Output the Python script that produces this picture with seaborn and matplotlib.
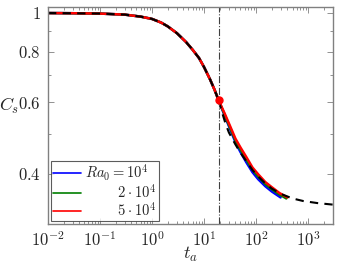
import numpy as np
import pandas as pd
import matplotlib
matplotlib.use("Agg")
import matplotlib.pyplot as plt
import seaborn as sns
from matplotlib.ticker import FixedLocator, FixedFormatter, NullFormatter, LogLocator

# ---- data ----
t_early = [0.01, 0.03, 0.1, 0.3, 0.6, 1, 1.5, 2, 3, 4.5, 6, 8, 10, 13, 16, 19]
cs_early = [0.998, 0.997, 0.995, 0.989, 0.978, 0.965, 0.945, 0.925, 0.890, 0.846,
            0.810, 0.772, 0.733, 0.684, 0.643, 0.607]

t_blue_late = [19, 25, 32, 40, 50, 65, 85, 110, 150, 200, 295]
cs_blue_late = [0.607, 0.555, 0.513, 0.478, 0.452, 0.426, 0.403, 0.387, 0.372, 0.361, 0.349]

t_green_late = [19, 25, 32, 40, 50, 65, 85, 110, 150, 200, 280, 380]
cs_green_late = [0.607, 0.558, 0.517, 0.483, 0.458, 0.433, 0.409, 0.393, 0.377, 0.366, 0.355, 0.347]

t_red_late = [19, 25, 32, 40, 50, 65, 85, 110, 150, 200, 280, 400]
cs_red_late = [0.607, 0.562, 0.522, 0.488, 0.464, 0.439, 0.414, 0.398, 0.381, 0.370, 0.358, 0.349]

t_ref_late = [19, 22, 26, 30, 40, 50, 65, 85, 110, 150, 200, 300, 500, 800, 1500, 3000]
cs_ref_late = [0.607, 0.568, 0.530, 0.505, 0.472, 0.450, 0.429, 0.408, 0.393, 0.378, 0.367,
               0.356, 0.347, 0.342, 0.338, 0.335]

labels = [r"$Ra_0 = 10^4$", r"$\qquad\;\;2\cdot10^4$", r"$\qquad\;\;5\cdot10^4$"]
colors = ["#0000ff", "#007f00", "#ff0000"]
t_mark = 19
cs_mark = 0.607

x_ticks = [1e-2, 1e-1, 1e0, 1e1, 1e2, 1e3]
x_ticklabels = [r"$10^{-2}$", r"$10^{-1}$", r"$10^{0}$", r"$10^{1}$", r"$10^{2}$", r"$10^{3}$"]
y_ticks = [0.4, 0.6, 0.8, 1.0]
y_ticklabels = [r"$0.4$", r"$0.6$", r"$0.8$", r"$1$"]
y_minor = [0.3, 0.5, 0.7, 0.9]

# ---- style ----
sns.set_style("ticks")
plt.rcParams["mathtext.fontset"] = "cm"
plt.rcParams["font.family"] = ["DejaVu Serif"]
grey = "#808080"

fig = plt.figure(figsize=(3.38, 2.63), dpi=100)
ax = fig.add_axes([48 / 338, 1 - 224 / 263, 285 / 338, 217 / 263])

frames = []
for lab, tl, cl in zip(labels,
                       [t_blue_late, t_green_late, t_red_late],
                       [cs_blue_late, cs_green_late, cs_red_late]):
    t_all = t_early + tl[1:]
    c_all = cs_early + cl[1:]
    frames.append(pd.DataFrame({"t": t_all, "Cs": c_all, "series": lab}))
df = pd.concat(frames, ignore_index=True)

sns.lineplot(data=df, x="t", y="Cs", hue="series", hue_order=labels,
             palette=colors, linewidth=1.8, ax=ax, sort=False, estimator=None)

df_ref1 = pd.DataFrame({"t": t_early, "Cs": cs_early})
df_ref2 = pd.DataFrame({"t": t_ref_late, "Cs": cs_ref_late})
sns.lineplot(data=df_ref1, x="t", y="Cs", color="black", linewidth=1.5,
             linestyle=(0, (4, 3)), ax=ax, legend=False, sort=False, estimator=None)
sns.lineplot(data=df_ref2, x="t", y="Cs", color="black", linewidth=1.5,
             linestyle=(0, (4, 3)), ax=ax, legend=False, sort=False, estimator=None)

ax.axvline(t_mark, color="#404040", linewidth=0.8, linestyle="-.")
ax.plot([t_mark], [cs_mark], "o", color="red", markersize=5, zorder=5)

ax.set_xscale("log")
ax.set_yscale("log")
ax.set_xlim(1e-2, 3e3)
ax.set_ylim(0.3, 1.033)

ax.xaxis.set_major_locator(FixedLocator(x_ticks))
ax.xaxis.set_major_formatter(FixedFormatter(x_ticklabels))
ax.xaxis.set_minor_locator(LogLocator(base=10, subs=np.arange(2, 10)))
ax.xaxis.set_minor_formatter(NullFormatter())
ax.yaxis.set_major_locator(FixedLocator(y_ticks))
ax.yaxis.set_major_formatter(FixedFormatter(y_ticklabels))
ax.yaxis.set_minor_locator(FixedLocator(y_minor))
ax.yaxis.set_minor_formatter(NullFormatter())

ax.tick_params(which="both", direction="in", top=True, right=True, color=grey,
               labelsize=12, width=0.6)
ax.tick_params(which="major", length=4, pad=5)
ax.tick_params(which="minor", length=2)
for s in ax.spines.values():
    s.set_color(grey)
    s.set_linewidth(1.0)

ax.set_xlabel(r"$t_a$", fontsize=13, va="center", ha="center")
ax.set_ylabel(r"$C_s$", fontsize=13, rotation=0, va="center", ha="center")
ax.xaxis.set_label_coords(0.5, -0.142)
ax.yaxis.set_label_coords(-0.135, 0.545)

leg = ax.legend(loc="lower left", fontsize=10.5, frameon=True, fancybox=False,
                borderaxespad=0.2, handlelength=1.9, handletextpad=0.3,
                labelspacing=0.0, borderpad=0.15, title=None)
leg.get_frame().set_edgecolor("#333333")
leg.get_frame().set_linewidth(0.8)
for h in leg.get_lines():
    h.set_linewidth(1.2)

fig.savefig("out.png", dpi=100)
